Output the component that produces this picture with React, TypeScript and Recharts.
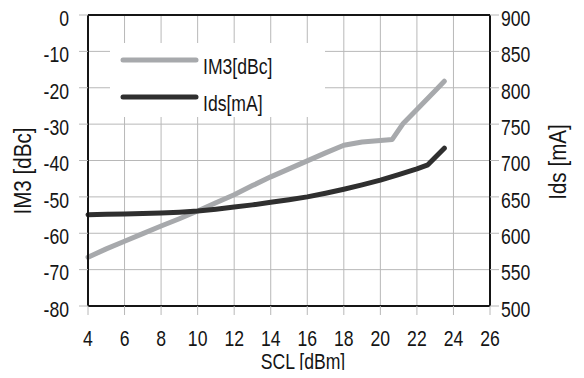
import React from "react";
import { CartesianGrid, Label, Line, LineChart, ReferenceLine, XAxis, YAxis } from "recharts";

const FONT = "'Liberation Sans', Arial, sans-serif";
const INK = "#151515";
const GRID = "#b8b8b8";
const IM3_COLOR = "#a7a9ac";
const IDS_COLOR = "#2f2f2f";

const xTicks = [4, 6, 8, 10, 12, 14, 16, 18, 20, 22, 24, 26];
const im3Ticks = [-80, -70, -60, -50, -40, -30, -20, -10, 0];
const idsTicks = [500, 550, 600, 650, 700, 750, 800, 850, 900];

const im3Scl = [4, 5, 6, 7, 8, 9, 10, 11, 12, 13, 14, 15, 16, 17, 18, 19, 20, 20.65, 21.25, 22, 23, 23.5];
const im3Values = [-66.6, -64.3, -62.2, -60.1, -58.0, -56.0, -53.9, -51.6, -49.4, -46.9, -44.5, -42.3, -40.1, -37.9, -35.8, -34.9, -34.5, -34.2, -29.8, -26.0, -20.8, -18.2];

const idsScl = [4, 5, 6, 7, 8, 9, 10, 11, 12, 13, 14, 15, 16, 17, 18, 19, 20, 21, 22, 22.6, 23.5];
const idsValues = [625.5, 626, 626.5, 627.2, 628, 629, 630.5, 633, 636, 639, 642.5, 646, 650, 655, 660.5, 666.5, 673, 680.5, 688.5, 694, 717];

const im3Data = im3Scl.map((scl, i) => ({ scl, im3: im3Values[i] }));
const idsData = idsScl.map((scl, i) => ({ scl, ids: idsValues[i] }));

const legendItems = [
  { name: "IM3[dBc]", color: IM3_COLOR },
  { name: "Ids[mA]", color: IDS_COLOR },
];

// narrow-looking text: regular sans squeezed horizontally
function NarrowText({ x, y, size, anchor, dy, rotate, squeeze = 0.8, children }: any) {
  const rot = rotate ? ` rotate(${rotate})` : "";
  return (
    <g transform={`translate(${x},${y})${rot} scale(${squeeze},1)`}>
      <text textAnchor={anchor} dy={dy} fontSize={size} fontFamily={FONT} fill={INK}>
        {children}
      </text>
    </g>
  );
}

const XTick = ({ x, y, payload }: any) => (
  <NarrowText x={x} y={y} size={22} anchor="middle" dy="0.71em">
    {payload.value}
  </NarrowText>
);

const LeftTick = ({ x, y, payload }: any) => (
  <NarrowText x={x} y={y + 3} size={22} anchor="end" dy="0.355em">
    {payload.value}
  </NarrowText>
);

const RightTick = ({ x, y, payload }: any) => (
  <NarrowText x={x} y={y + 3} size={22} anchor="start" dy="0.355em">
    {payload.value}
  </NarrowText>
);

function LegendBox() {
  return (
    <div style={{ position: "absolute", left: 110, top: 43, width: 215, height: 74, background: "#fff" }}>
      <svg width={215} height={74} style={{ display: "block" }}>
        {legendItems.map((item, i) => (
          <g key={item.name}>
            <line x1={13} x2={86} y1={17 + i * 37} y2={17 + i * 37} stroke={item.color} strokeWidth={5} strokeLinecap="round" />
            <NarrowText x={93} y={23 + i * 37} size={22} anchor="start" dy="0.355em">
              {item.name}
            </NarrowText>
          </g>
        ))}
      </svg>
    </div>
  );
}

export default function App() {
  return (
    <div style={{ position: "relative", margin: -8, width: 584, height: 378, background: "#fff" }}>
      <LineChart width={584} height={378} margin={{ top: 15, right: 0, bottom: 0, left: 0 }}>
        <CartesianGrid stroke={GRID} />
        <XAxis
          dataKey="scl"
          type="number"
          domain={[4, 26]}
          ticks={xTicks}
          height={72}
          tickSize={9}
          tickMargin={15}
          tick={XTick}
          axisLine={{ stroke: INK, strokeWidth: 2 }}
          tickLine={{ stroke: GRID }}
        >
          <Label
            content={() => (
              <NarrowText x={303} y={361} size={22} anchor="middle" dy="0.355em">
                SCL [dBm]
              </NarrowText>
            )}
          />
        </XAxis>
        <YAxis
          domain={[-80, 0]}
          ticks={im3Ticks}
          width={88}
          tickSize={9}
          tickMargin={10}
          tick={LeftTick}
          axisLine={{ stroke: INK, strokeWidth: 2 }}
          tickLine={{ stroke: GRID }}
        >
          <Label
            content={() => (
              <NarrowText x={22} y={171} rotate={-90} squeeze={0.86} size={24} anchor="middle" dy="0.355em">
                IM3 [dBc]
              </NarrowText>
            )}
          />
        </YAxis>
        <YAxis
          yAxisId="right"
          orientation="right"
          domain={[500, 900]}
          ticks={idsTicks}
          width={94}
          tickSize={9}
          tickMargin={2}
          tick={RightTick}
          axisLine={{ stroke: INK, strokeWidth: 2 }}
          tickLine={{ stroke: GRID }}
        >
          <Label
            content={() => (
              <NarrowText x={557} y={162} rotate={-90} squeeze={0.86} size={24} anchor="middle" dy="0.355em">
                Ids [mA]
              </NarrowText>
            )}
          />
        </YAxis>
        <ReferenceLine y={0} stroke={INK} strokeWidth={2} />
        <Line
          data={im3Data}
          dataKey="im3"
          name="IM3[dBc]"
          type="linear"
          stroke={IM3_COLOR}
          strokeWidth={5}
          strokeLinecap="round"
          strokeLinejoin="round"
          dot={false}
          activeDot={false}
          isAnimationActive={false}
        />
        <Line
          yAxisId="right"
          data={idsData}
          dataKey="ids"
          name="Ids[mA]"
          type="linear"
          stroke={IDS_COLOR}
          strokeWidth={5}
          strokeLinecap="round"
          strokeLinejoin="round"
          dot={false}
          activeDot={false}
          isAnimationActive={false}
        />
      </LineChart>
      <LegendBox />
    </div>
  );
}
